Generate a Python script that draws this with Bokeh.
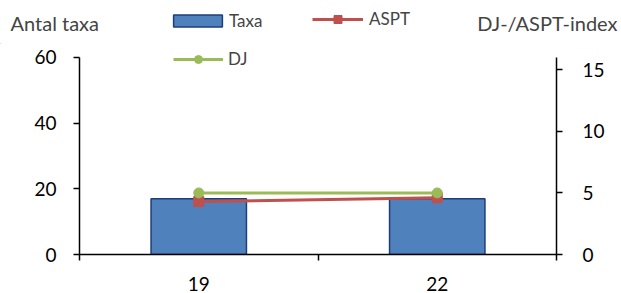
from bokeh.plotting import figure
from bokeh.layouts import column
from bokeh.models import (Range1d, LinearAxis, FixedTicker, Legend, LegendItem,
                          Label, ColumnDataSource)
from bokeh.embed import file_html
from bokeh.resources import INLINE

categories = ["19", "22"]
taxa = [17, 17]
aspt = [4.3, 4.6]
dj = [5.0, 5.0]
left_ticks = [0, 20, 40, 60]
right_ticks = [0, 5, 10, 15]
left_max = 60
right_max = 16

FONT = "Lato"
BAR_FILL = "#4F81BD"
BAR_LINE = "#1F3E78"
ASPT_C = "#C0504D"
DJ_C = "#9BBB59"

W = 621
HEAD_H = 44
MAIN_H = 249
B_LEFT, B_RIGHT, B_BOTTOM = 79, 65, 38
TOP_PAD = 13  # px between frame top and the top of the value axes
frame_h = MAIN_H - B_BOTTOM
scale_k = frame_h / (frame_h - TOP_PAD)

# category slots: each category occupies one unit on the x scale
xpos = [i + 0.5 for i in range(len(categories))]
bounds = list(range(len(categories) + 1))

src = ColumnDataSource(dict(x=xpos, cat=categories, taxa=taxa, aspt=aspt, dj=dj))

def series(fig, **kw):
    b = fig.vbar(x="x", top="taxa", width=0.4, source=src, fill_color=BAR_FILL,
                 line_color=BAR_LINE, line_width=1.5)
    al = fig.line(x="x", y="aspt", source=src, line_color=ASPT_C, line_width=3, **kw)
    am = fig.scatter(x="x", y="aspt", source=src, marker="square", size=10,
                     fill_color=ASPT_C, line_color=ASPT_C, **kw)
    dl = fig.line(x="x", y="dj", source=src, line_color=DJ_C, line_width=3, **kw)
    dm = fig.scatter(x="x", y="dj", source=src, marker="circle", size=10,
                     fill_color=DJ_C, line_color=DJ_C, **kw)
    return b, al, am, dl, dm

# ---------- main chart ----------
p = figure(x_range=Range1d(0, len(categories)), y_range=Range1d(0, left_max * scale_k),
           width=W, height=MAIN_H,
           min_border_left=B_LEFT, min_border_right=B_RIGHT, min_border_top=0,
           min_border_bottom=B_BOTTOM,
           output_backend="svg", toolbar_location=None,
           x_axis_location=None, y_axis_location=None)
p.frame_align = False
p.outline_line_color = None
p.xgrid.visible = False
p.ygrid.visible = False
p.extra_y_ranges = {"idx": Range1d(0, right_max * scale_k)}

bars, aspt_l, aspt_m, dj_l, dj_m = series(p, y_range_name="idx")

def style(ax):
    ax.axis_line_color = "black"
    ax.axis_line_width = 1.5
    ax.major_tick_line_color = "black"
    ax.major_tick_line_width = 1.5
    ax.major_tick_in = 0
    ax.major_tick_out = 6
    ax.minor_tick_line_color = None
    ax.major_label_text_font = FONT
    ax.major_label_text_font_size = "19px"
    ax.major_label_text_color = "black"

ly = LinearAxis(ticker=FixedTicker(ticks=left_ticks), bounds=(0, left_max))
style(ly)
ly.major_label_standoff = 17
p.add_layout(ly, "left")

ry = LinearAxis(y_range_name="idx", ticker=FixedTicker(ticks=right_ticks), bounds=(0, right_max))
style(ry)
ry.major_label_standoff = 20
p.add_layout(ry, "right")

bx = LinearAxis(ticker=FixedTicker(ticks=xpos, minor_ticks=bounds))
style(bx)
bx.major_tick_line_color = None
bx.minor_tick_line_color = "black"
bx.minor_tick_line_width = 1.5
bx.minor_tick_in = 0
bx.minor_tick_out = 6
bx.major_label_standoff = 16
bx.major_label_overrides = {c: lab for c, lab in zip(xpos, categories)}
p.add_layout(bx, "below")

leg_common = dict(padding=0, margin=0, border_line_color=None, background_fill_alpha=0,
                  label_text_font=FONT, label_text_font_size="17px", label_height=20)

p.add_layout(Legend(items=[LegendItem(label="DJ", renderers=[dj_l, dj_m])],
                    location=(94, 185), glyph_width=50, glyph_height=20, label_standoff=5,
                    **leg_common), "center")

# ---------- header strip (axis titles and first legend row) ----------
h = figure(x_range=Range1d(100, 101), y_range=Range1d(100, 101), width=W, height=HEAD_H,
           min_border=0, output_backend="svg", toolbar_location=None,
           x_axis_location=None, y_axis_location=None)
h.frame_align = False
h.outline_line_color = None
h.xgrid.visible = False
h.ygrid.visible = False
hb, hal, ham, hdl, hdm = series(h)

h.add_layout(Legend(items=[LegendItem(label="Taxa", renderers=[hb])],
                    location=(167, 13.5), glyph_width=61, glyph_height=15, label_standoff=1,
                    **leg_common), "center")
h.add_layout(Legend(items=[LegendItem(label="ASPT", renderers=[hal, ham])],
                    location=(312, 15), glyph_width=51, glyph_height=20, label_standoff=6,
                    **leg_common), "center")

h.add_layout(Label(x=10, y=22, x_units="screen", y_units="screen", text="Antal taxa",
                   text_font=FONT, text_font_size="20px", text_baseline="middle"))
h.add_layout(Label(x=617, y=22, x_units="screen", y_units="screen", text="DJ-/ASPT-index",
                   text_font=FONT, text_font_size="20px", text_baseline="middle",
                   text_align="right"))

layout = column(h, p, spacing=0)
open("out.html", "w").write(file_html(layout, INLINE))
